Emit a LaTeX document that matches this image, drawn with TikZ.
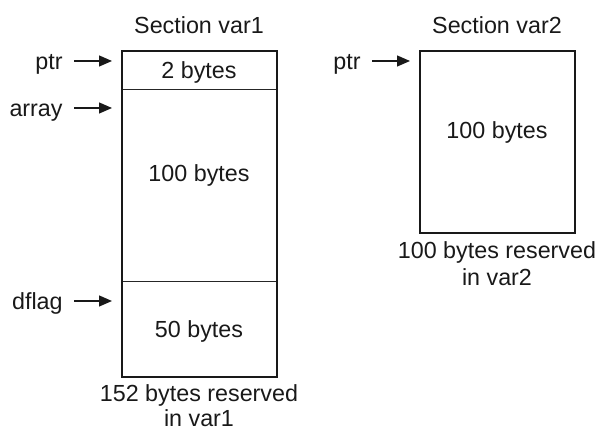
\documentclass[tikz,border=0pt]{standalone}
\usepackage{fontspec}
\setmainfont{Liberation Sans}
\usetikzlibrary{arrows.meta}
\begin{document}
\begin{tikzpicture}[x=0.5pt,y=-0.5pt,
  every node/.style={font=\fontsize{11.65pt}{13.5pt}\selectfont, text=black!90},
  cell/.style={draw=black!85, line width=0.5pt, anchor=north west, inner sep=0pt, minimum width=77pt},
  outer/.style={draw=black!90, line width=1pt},
  lbl/.style={anchor=east, inner sep=0pt, text height=1.09em, text depth=0.25em},
  txt/.style={inner sep=0pt},
  captxt/.style={align=center, inner sep=0pt, anchor=north},
  arr/.style={-{Triangle[length=6.5pt,width=5.5pt]}, line width=0.65pt, draw=black!90, shorten <=5.5pt, shorten >=5pt}]
\useasboundingbox (0,0) rectangle (600,432);
% Section var1
\node[txt] (t1) at (199,25) {Section var1};
\node[cell, minimum height=19pt] (c1) at (122,50.7) {};
\node[cell, minimum height=96pt] (c2) at (122,88.7) {};
\node[cell, minimum height=47.65pt] (c3) at (122,280.7) {};
\draw[outer] (c1.north west) rectangle (c3.south east);
\node[txt] (b1) at (199,72) {2 bytes};
\node[txt] (b2) at (199,175) {100 bytes};
\node[txt] (b3) at (199,331) {50 bytes};
\node[captxt, font=\fontsize{11.65pt}{12.5pt}\selectfont] (cap1) at (199,384) {152 bytes reserved\\in var1};
\node[lbl] (p1) at (63,61) {ptr};
\node[lbl] (a1) at (63,108) {array};
\node[lbl] (d1) at (63,301) {dflag};
\draw[arr] (p1.east) -- (p1.east -| c1.west);
\draw[arr] (a1.east) -- (a1.east -| c2.west);
\draw[arr] (d1.east) -- (d1.east -| c3.west);
% Section var2
\node[txt] (t2) at (497,25) {Section var2};
\node[cell, minimum height=90.5pt] (r1) at (420,50.7) {};
\draw[outer] (r1.north west) rectangle (r1.south east);
\node[txt] (rb1) at (497,132) {100 bytes};
\node[captxt] (cap2) at (497,241) {100 bytes reserved\\in var2};
\node[lbl] (p2) at (361,61) {ptr};
\draw[arr] (p2.east) -- (p2.east -| r1.west);
\end{tikzpicture}
\end{document}
